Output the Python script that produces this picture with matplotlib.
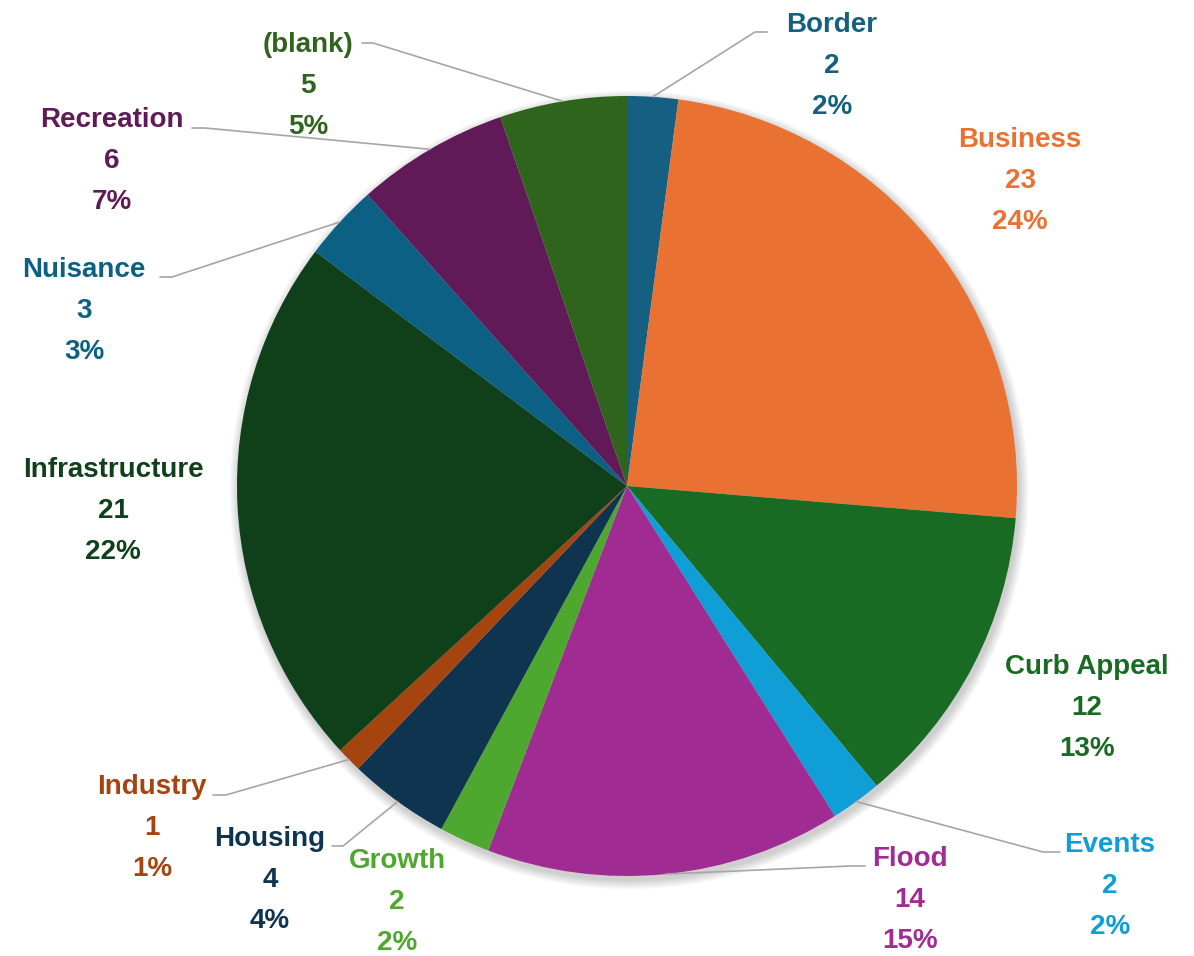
"""Pie chart of request categories with outside labels and leader lines."""

import matplotlib.pyplot as plt
from matplotlib.patches import Circle
import numpy as np

W, H = 1194, 956

categories = ["Border", "Business", "Curb Appeal", "Events", "Flood", "Growth",
              "Housing", "Industry", "Infrastructure", "Nuisance", "Recreation",
              "(blank)"]
counts = [2, 23, 12, 2, 14, 2, 4, 1, 21, 3, 6, 5]
pct_labels = ["2%", "24%", "13%", "2%", "15%", "2%", "4%", "1%", "22%", "3%",
              "7%", "5%"]

colors = ["#156082", "#E97132", "#196B24", "#0F9ED5", "#A02B93", "#4EA72E",
          "#0E3450", "#A5440F", "#0F401A", "#0B6084", "#601A58", "#2F641C"]

# layout (pixel coords, y from top)
CENTER = (627, 486)
RADIUS = 390
LINE_GAP = 41
label_pos = {
    "Border": (832, 66), "Business": (1020, 181), "Curb Appeal": (1087, 708),
    "Events": (1110, 886), "Flood": (910, 900), "Growth": (397, 902),
    "Housing": (270, 880), "Industry": (152, 828), "Infrastructure": (113, 511),
    "Nuisance": (84, 311), "Recreation": (112, 161), "(blank)": (308, 86),
}
# leader line: (start at text, elbow)
leaders = {
    "Border": ((767, 32), (755, 32)),
    "Events": ((1060, 852), (1043, 852)),
    "Flood": ((865, 866), (850, 866)),
    "Housing": ((332, 846), (343, 846)),
    "Industry": ((213, 795), (226, 795)),
    "Nuisance": ((160, 277), (172, 277)),
    "Recreation": ((192, 128), (205, 128)),
    "(blank)": ((362, 43), (373, 43)),
}


def fy(y):
    return H - y


fig = plt.figure(figsize=(W / 100, H / 100), dpi=100)
ax = fig.add_axes([0, 0, 1, 1])

cx, cy = CENTER[0], fy(CENTER[1])

# soft shadow under the pie
for k in range(8):
    ax.add_patch(Circle((cx + 2, cy - 4), RADIUS + 1 + k * 1.2,
                        facecolor="black", edgecolor="none", alpha=0.025,
                        zorder=0))

wedges, _ = ax.pie(counts, colors=colors, startangle=90, counterclock=False,
                   center=(cx, cy), radius=RADIUS, frame=True,
                   wedgeprops=dict(linewidth=0))
for w in wedges:
    w.set_zorder(2)

for i, (name, val) in enumerate(zip(categories, counts)):
    x, y = label_pos[name]
    for j, txt in enumerate([name, str(val), pct_labels[i]]):
        ax.text(x, fy(y + (j - 1) * LINE_GAP), txt, ha="center", va="center",
                fontsize=20, fontweight="bold", color=colors[i],
                family=["Liberation Sans", "DejaVu Sans"], zorder=5)

    if name in leaders:
        w = wedges[i]
        mid = np.deg2rad((w.theta1 + w.theta2) / 2)
        ex = cx + RADIUS * np.cos(mid)
        ey = cy + RADIUS * np.sin(mid)
        (sx, sy), (bx, by) = leaders[name]
        ax.plot([sx, bx, ex], [fy(sy), fy(by), ey], color="#A6A6A6",
                linewidth=1.2, zorder=3, solid_capstyle="round")

ax.set_xlim(0, W)
ax.set_ylim(0, H)
ax.set_aspect("equal")
ax.axis("off")

fig.savefig("out.png", dpi=100, facecolor="white")
